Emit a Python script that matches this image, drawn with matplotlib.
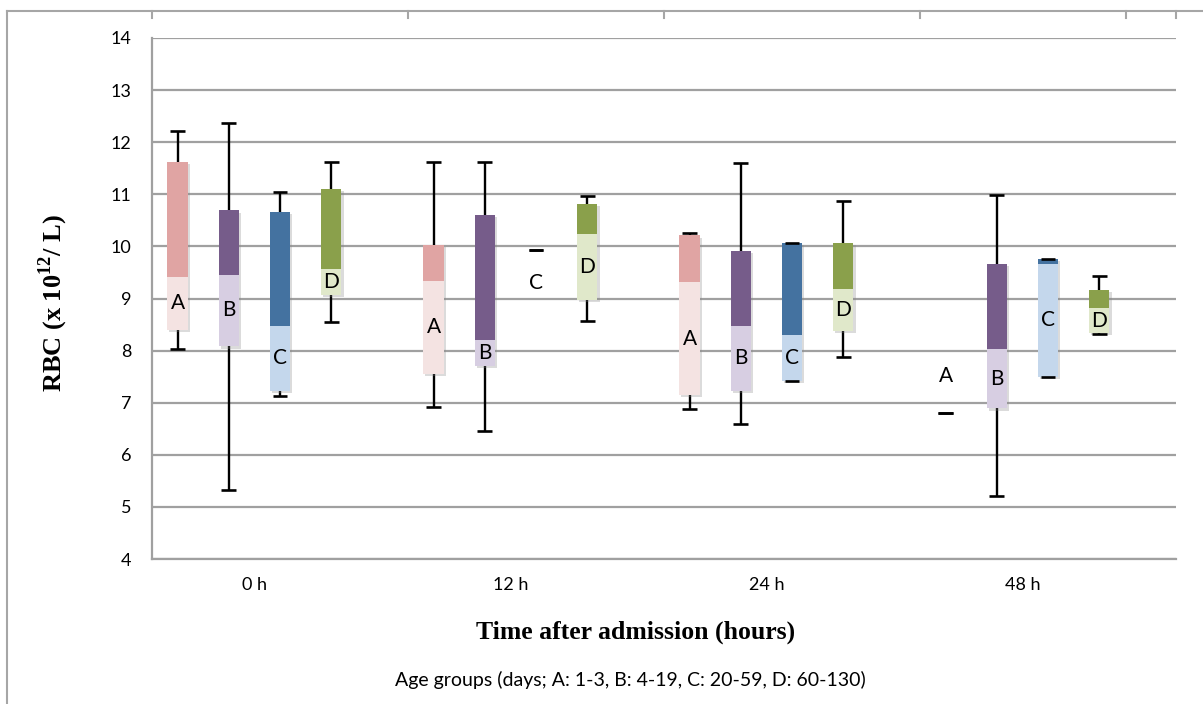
import matplotlib.pyplot as plt
import matplotlib.patheffects as pe
from matplotlib.lines import Line2D
import numpy as np

plt.rcParams['mathtext.fontset'] = 'custom'
plt.rcParams['mathtext.rm'] = 'Liberation Serif:bold'

times = ['0 h', '12 h', '24 h', '48 h']
groups = ['A', 'B', 'C', 'D']

# rows = time point, columns = age group A..D
low = np.array([[8.03, 5.32, 7.13, 8.54],
                [6.91, 6.46, 9.94, 8.57],
                [6.87, 6.59, 7.42, 7.88],
                [6.81, 5.21, 7.49, 8.32]])
q1 = np.array([[8.39, 8.08, 7.22, 9.06],
               [7.56, 7.70, 9.94, 8.97],
               [7.14, 7.22, 7.42, 8.38],
               [6.81, 6.89, 7.49, 8.34]])
med = np.array([[9.42, 9.46, 8.48, 9.57],
                [9.34, 8.21, 9.94, 10.23],
                [9.32, 8.48, 8.29, 9.19],
                [6.81, 8.03, 9.67, 8.81]])
q3 = np.array([[11.62, 10.69, 10.66, 11.11],
               [10.02, 10.60, 9.94, 10.82],
               [10.21, 9.92, 10.07, 10.07],
               [6.81, 9.67, 9.76, 9.17]])
high = np.array([[12.21, 12.37, 11.05, 11.62],
                 [11.62, 11.62, 9.94, 10.97],
                 [10.25, 11.60, 10.07, 10.87],
                 [6.81, 10.98, 9.76, 9.43]])

# single-value groups have no box, so their letter sits beside the dash
label_pos = {(1, 2): 9.30, (3, 0): 7.51}

dark = ['#E0A4A3', '#765C8A', '#4472A0', '#8AA04B']
light = ['#F4E3E2', '#D7CEE2', '#C4D7EC', '#E0E8CA']

W, H = 1203, 704
fig = plt.figure(figsize=(W / 100, H / 100), dpi=100)
ax = fig.add_axes([152 / W, 1 - 559 / H, (1176 - 152) / W, (559 - 38) / H])

bw = 0.08
cw = 0.058
shadow = [pe.SimplePatchShadow(offset=(1.5, -1.5), shadow_rgbFace='#888888', alpha=0.3), pe.Normal()]

for i in range(len(times)):
    for j in range(len(groups)):
        x = i + (j - 1.5) * 0.2
        ax.vlines(x, low[i, j], high[i, j], color='black', lw=1.7, zorder=2)
        if q3[i, j] > q1[i, j]:
            base = ax.bar(x, q3[i, j] - q1[i, j], bottom=q1[i, j], width=bw,
                          color='white', zorder=3)
            base[0].set_path_effects(shadow)
        ax.bar(x, med[i, j] - q1[i, j], bottom=q1[i, j], width=bw, color=light[j], zorder=4)
        ax.bar(x, q3[i, j] - med[i, j], bottom=med[i, j], width=bw, color=dark[j], zorder=4)
        ax.hlines([low[i, j], high[i, j]], x - cw / 2, x + cw / 2, color='black', lw=1.9, zorder=5)
        ty = label_pos.get((i, j), (q1[i, j] + med[i, j]) / 2)
        ax.text(x, ty, groups[j], ha='center', va='center', fontsize=15,
                family='Lato', zorder=6)

ax.set_xlim(-0.4, 3.6)
ax.set_ylim(4, 14)
ax.set_yticks(range(4, 15))
ax.set_xticks(range(len(times)))
ax.set_xticklabels(times)
ax.tick_params(length=0, labelsize=13)
ax.tick_params(axis='y', pad=15)
ax.tick_params(axis='x', pad=13)
for lab in ax.get_xticklabels() + ax.get_yticklabels():
    lab.set_family('Lato')

ax.grid(axis='y', color='#A0A0A0', lw=1.6, zorder=0)
ax.set_axisbelow(True)
for side in ['top', 'right']:
    ax.spines[side].set_visible(False)
for side in ['left', 'bottom']:
    ax.spines[side].set_color('#A0A0A0')
    ax.spines[side].set_linewidth(1.6)

# chart frame and the top axis ticks
gray = '#A6A6A6'
ty = 1 - 10.7 / H
fig.add_artist(Line2D([7 / W, 1], [ty, ty], color=gray, lw=1.5))
fig.add_artist(Line2D([7 / W, 7 / W], [0, ty], color=gray, lw=1.5))
for tx in [152, 408, 664, 920, 1126, 1176]:
    fig.add_artist(Line2D([tx / W, tx / W], [ty, 1 - 18 / H], color=gray, lw=1.5))

fig.text(53 / W, 1 - 303 / H, r'RBC (x 10$^{12}$/ L)', rotation=90, ha='center', va='center',
         family='Liberation Serif', fontweight='bold', fontsize=19)
fig.text(636 / W, 1 - 632 / H, 'Time after admission (hours)', ha='center', va='center',
         family='Liberation Serif', fontweight='bold', fontsize=18.5)
fig.text(630 / W, 1 - 680 / H, 'Age groups (days; A: 1-3, B: 4-19, C: 20-59, D: 60-130)',
         ha='center', va='center', family='Lato', fontsize=14)

fig.savefig('out.png', dpi=100)
